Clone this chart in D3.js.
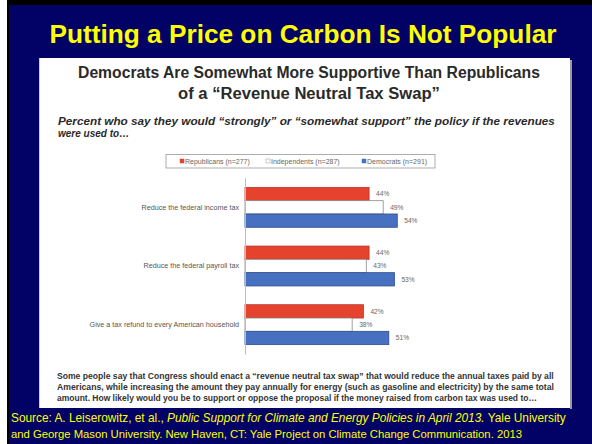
<!DOCTYPE html>
<html><head><meta charset="utf-8">
<script src="https://cdn.jsdelivr.net/npm/d3@7"></script>
<style>body{margin:0;background:#fff}svg{display:block}</style>
</head><body>
<script>
const categories = ["Reduce the federal income tax","Reduce the federal payroll tax","Give a tax refund to every American household"];
const seriesNames = ["Republicans (n=277)","Independents (n=287)","Democrats (n=291)"];
const republicans = [44,44,42];
const independents = [49,43,38];
const democrats = [54,53,51];
const seriesValues = [republicans, independents, democrats];
const seriesFill = ["#E6432F","#FFFFFF","#4770C0"];
const seriesStroke = ["#B7352A","#8a8a8a","#2E4E8E"];

const W=592,H=444;
const svg=d3.select("body").append("svg").attr("width",W).attr("height",H);
svg.append("rect").attr("width",W).attr("height",H).attr("fill","#fff");
svg.append("rect").attr("x",7).attr("y",0).attr("width",W-7).attr("height",H).attr("fill","#000");
svg.append("rect").attr("x",9).attr("y",5).attr("width",W-9).attr("height",H-5).attr("fill","#020266");

function fit(t, w){
  const n=t.node(); const cur=n.getComputedTextLength();
  const fs=parseFloat(t.attr("font-size"));
  t.attr("font-size",(fs*w/cur).toFixed(2));
}
const F="Liberation Sans, Arial, sans-serif";
fit(svg.append("text").attr("x",303).attr("y",43).attr("text-anchor","middle").attr("font-family",F)
  .attr("font-weight","bold").attr("font-size",26).attr("fill","#FFFF00")
  .text("Putting a Price on Carbon Is Not Popular"),507);

svg.append("rect").attr("x",570).attr("y",60).attr("width",2).attr("height",349).attr("fill","#9a9a9a");
svg.append("rect").attr("x",39).attr("y",58).attr("width",531).attr("height",350).attr("fill","#fff");
svg.append("rect").attr("x",39).attr("y",58).attr("width",1).attr("height",350).attr("fill","#cfcfcf");

fit(svg.append("text").attr("x",309).attr("y",78).attr("text-anchor","middle").attr("font-family",F)
  .attr("font-weight","bold").attr("font-size",16).attr("fill","#2a2a2a")
  .text("Democrats Are Somewhat More Supportive Than Republicans"),462);
fit(svg.append("text").attr("x",309).attr("y",99).attr("text-anchor","middle").attr("font-family",F)
  .attr("font-weight","bold").attr("font-size",16).attr("fill","#2a2a2a")
  .text("of a \u201cRevenue Neutral Tax Swap\u201d"),262);

fit(svg.append("text").attr("x",58).attr("y",125).attr("font-family",F).attr("font-style","italic")
  .attr("font-weight","bold").attr("font-size",10).attr("fill","#2a2a2a")
  .text("Percent who say they would \u201cstrongly\u201d or \u201csomewhat support\u201d the policy if the revenues"),497);
svg.append("text").attr("x",58).attr("y",137).attr("font-family",F).attr("font-style","italic")
  .attr("font-weight","bold").attr("font-size",10).attr("fill","#2a2a2a").text("were used to\u2026");

svg.append("rect").attr("x",166).attr("y",154.5).attr("width",269).attr("height",13.5).attr("fill","#fff").attr("stroke","#9a9a9a").attr("stroke-width",0.8);
const legX=[180,266,362];
seriesNames.forEach((s,i)=>{
  svg.append("rect").attr("x",legX[i]).attr("y",159).attr("width",4).attr("height",4)
    .attr("fill",seriesFill[i]).attr("stroke",i==1?"#999":seriesFill[i]).attr("stroke-width",0.5);
  svg.append("text").attr("x",legX[i]+5).attr("y",163.6).attr("font-family",F).attr("font-size",7)
    .attr("fill","#666").text(s);
});

const x=d3.scaleLinear().domain([0,100]).range([245,527]);
const y=d3.scaleBand().domain(categories).range([178,354]).paddingInner(0.32).paddingOuter(0.16);
const ys=d3.scaleBand().domain(d3.range(3)).range([0,y.bandwidth()]);

const g=svg.append("g");
categories.forEach((c,ci)=>{
  seriesValues.forEach((vals,si)=>{
    g.append("rect").attr("x",x(0)).attr("y",y(c)+ys(si)).attr("width",x(vals[ci])-x(0))
      .attr("height",ys.bandwidth()).attr("fill",seriesFill[si]).attr("stroke",seriesStroke[si]).attr("stroke-width",0.8);
    g.append("text").attr("x",x(vals[ci])+7).attr("y",y(c)+ys(si)+ys.bandwidth()/2+2.3)
      .attr("font-family",F).attr("font-size",6.6).attr("fill","#666").text(vals[ci]+"%");
  });
});
const ax=svg.append("g").attr("transform",`translate(${x(0)},0)`).call(d3.axisLeft(y).tickSize(0).tickPadding(6));
ax.select(".domain").attr("stroke","#bbb").attr("stroke-width",1);
ax.selectAll("text").attr("font-family",F).attr("font-size",7.2).attr("fill","#555");

const foot=["Some people say that Congress should enact a \u201crevenue neutral tax swap\u201d that would reduce the annual taxes paid by all",
"Americans, while increasing the amount they pay annually for energy (such as gasoline and electricity) by the same total",
"amount. How likely would you be to support or oppose the proposal if the money raised from carbon tax was used to\u2026"];
const footW=[497,497,480];
foot.forEach((t,i)=>{
  fit(svg.append("text").attr("x",57).attr("y",379+i*11).attr("font-family",F).attr("font-weight","bold")
    .attr("font-size",7.5).attr("fill","#333").text(t),footW[i]);
});

const s1=svg.append("text").attr("x",11).attr("y",422).attr("font-family",F).attr("font-size",11).attr("fill","#FFFF00");
s1.append("tspan").text("Source: A. Leiserowitz, et al., ");
s1.append("tspan").attr("font-style","italic").text("Public Support for Climate and Energy Policies in April 2013.");
s1.append("tspan").text(" Yale University");
fit(s1,555);
fit(svg.append("text").attr("x",11).attr("y",438).attr("font-family",F).attr("font-size",11).attr("fill","#FFFF00")
  .text("and George Mason University. New Haven, CT: Yale Project on Climate Change Communication. 2013"),511);
</script>
</body></html>
